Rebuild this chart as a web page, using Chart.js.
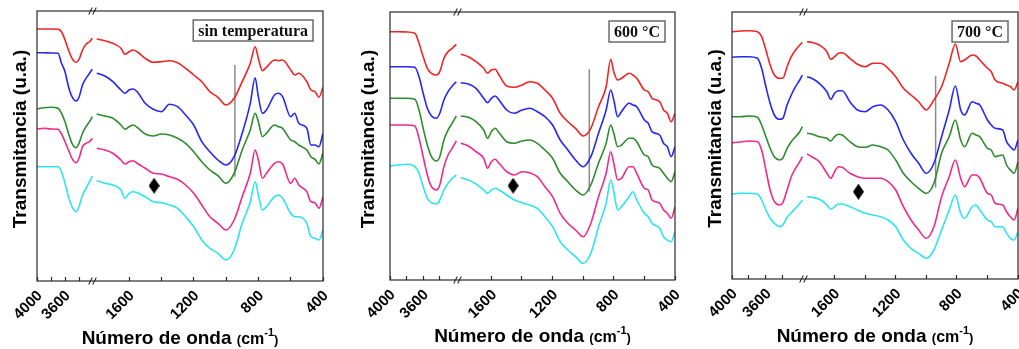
<!DOCTYPE html>
<html>
<head>
<meta charset="utf-8">
<script src="https://cdn.jsdelivr.net/npm/chart.js@4.4.1/dist/chart.umd.min.js"></script>
<style>
  html, body { margin: 0; padding: 0; background: #fff; }
  #wrap { position: relative; width: 1019px; height: 349px; overflow: hidden; }
  .panel { position: absolute; top: 0; }
</style>
</head>
<body>
<div id="wrap">
  <canvas id="c1" class="panel" width="340" height="349" style="left:0"></canvas>
  <canvas id="c2" class="panel" width="340" height="349" style="left:340px"></canvas>
  <canvas id="c3" class="panel" width="341" height="349" style="left:680px"></canvas>
</div>
<script>
// ---- data (wavenumber in cm-1, transmittance in arbitrary units) ----
const panelLabels = ['sin temperatura', '600 °C', '700 °C'];
const tickWn = [4000, 3800, 3600, 3400, 1600, 1400, 1200, 1000, 800, 600, 400];
const labelWn = [4000, 3600, 1600, 1200, 800, 400];

// panel 1 : sin temperatura
const hiWn1 = [4000, 3900, 3800, 3700, 3650, 3600, 3550, 3500, 3440, 3400, 3350, 3300, 3250, 3210];
const loWn1 = [1800, 1750, 1700, 1650, 1625, 1600, 1575, 1550, 1500, 1450, 1400, 1350, 1300, 1250, 1200, 1150, 1100, 1050, 1000, 950, 900, 850, 820, 800, 775, 750, 700, 675, 650, 600, 575, 550, 500, 475, 450, 425, 400];
const p1RedHi   = [252, 252, 252, 251.7, 249.3, 241, 231, 222.7, 218.7, 221.7, 231, 236.7, 239.3, 242.7];
const p1RedLo   = [242, 240.3, 237.7, 232.7, 226.7, 229.3, 231, 229.3, 222.7, 218.7, 219.3, 220.3, 218.3, 212.7, 206, 199.3, 189.3, 183.7, 176, 182.7, 199.3, 217.7, 234.3, 222.7, 210.3, 213.7, 221, 220.3, 221, 211, 206, 207.7, 199.3, 191, 189.3, 183.7, 193.7];
const p1BlueHi  = [228.3, 228.3, 228, 227.7, 217.7, 209.3, 194.3, 184.3, 180, 183.7, 196, 202.7, 207.7, 211.7];
const p1BlueLo  = [207.7, 205, 199.3, 191, 187.7, 191, 192, 189.3, 177.7, 171.7, 169.3, 176.7, 174.3, 166, 156, 139.3, 129.3, 121, 116, 124.3, 147.7, 177.7, 203.3, 184.3, 167.7, 171, 186, 187.7, 184.3, 164.3, 167.7, 157.7, 152.7, 136, 136, 134.3, 147.7];
const p1GreenHi = [172, 173.3, 173.7, 172.7, 167.7, 159.3, 147.7, 137.7, 133.3, 137.7, 147.7, 154.3, 159.3, 164.3];
const p1GreenLo = [167, 165, 162.7, 156, 151.7, 154.3, 156, 153.7, 147, 145, 147, 146, 142.7, 137.7, 129.3, 119.3, 111, 105.3, 97.7, 107.7, 131, 151, 167.7, 159.3, 144.3, 147.7, 156, 154.3, 152.7, 141, 139.3, 136, 131, 124.3, 121.7, 117, 128.3];
const p1PinkHi  = [152, 152.7, 152, 151.7, 147, 139.3, 131, 122.7, 118.3, 122.7, 134.3, 137.7, 139.3, 142.7];
const p1PinkLo  = [132.7, 131, 127.7, 121, 117, 119.3, 120.3, 117.7, 112.7, 107.7, 107, 104.3, 101.7, 96, 87.7, 76, 64.3, 57.7, 51, 61, 84.3, 107.7, 131, 121, 102.7, 107.7, 117.7, 119.3, 117, 97.7, 102.7, 96, 89.3, 79.3, 78.3, 72.7, 84.3];
const p1CyanHi  = [114.3, 114.3, 114.3, 114.3, 109.3, 97.7, 84.3, 74.3, 69.3, 74.3, 86, 92.7, 99.3, 105];
const p1CyanLo  = [100.3, 97.7, 96, 91, 82.7, 87.7, 89.3, 88.3, 84.3, 79.3, 78.3, 76, 72.7, 64.3, 54.3, 41, 32.7, 27.7, 21, 31, 57.7, 79.3, 99.3, 86, 71, 74.3, 84.3, 86, 82.7, 67.7, 64.3, 64.3, 57.7, 44.3, 42.7, 41, 51];

// panel 2 : 600 °C
const hiWn2 = [4000, 3900, 3800, 3700, 3650, 3600, 3550, 3500, 3440, 3400, 3350, 3300, 3250, 3200];
const loWn2 = [1800, 1750, 1700, 1650, 1625, 1600, 1575, 1550, 1500, 1450, 1400, 1350, 1300, 1250, 1200, 1150, 1100, 1050, 1000, 950, 900, 850, 820, 800, 775, 750, 700, 675, 650, 600, 575, 550, 500, 475, 450, 425, 400];
const p2RedHi   = [248.3, 248.3, 248, 246.7, 236.7, 223.3, 211.7, 206.7, 205, 208.3, 221.7, 228.3, 231.7, 235.7];
const p2RedLo   = [225.7, 223.3, 218.3, 211.7, 206.7, 210, 210.7, 205, 194, 192.7, 195, 198.3, 196.7, 190, 181.7, 166.7, 158.3, 151.7, 144, 151.7, 173.3, 193.3, 220.7, 208.3, 200, 201.7, 206.7, 205, 201.7, 190, 188.3, 181.7, 178.3, 170, 166.7, 158.3, 166.7];
const p2BlueHi  = [213.3, 213.3, 213.3, 212.7, 203.3, 186.7, 171.7, 164, 161.7, 166.7, 180, 188.3, 194, 198.3];
const p2BlueLo  = [197.3, 196, 191.7, 181.7, 177.3, 181.7, 184, 180, 170, 166.7, 170, 171.7, 168.3, 163.3, 155, 140, 130, 120, 113.3, 123.3, 146.7, 170, 190, 180, 163.3, 168.3, 176.7, 175, 173.3, 160, 156.7, 148.3, 145, 136.7, 133.3, 123.3, 133.3];
const p2GreenHi = [181.7, 181.7, 181.7, 180.7, 170, 151.7, 135, 123.3, 119, 123.3, 140, 150, 156.7, 164];
const p2GreenLo = [164, 162.7, 158.3, 150, 141.7, 148.3, 151.7, 147.3, 138.3, 136.7, 139, 140, 136.7, 130, 121.7, 106.7, 98.3, 90, 85, 95, 116.7, 136.7, 155, 146.7, 133.3, 135, 141.7, 141.7, 138.3, 125, 123.3, 115, 111.7, 106.7, 101.7, 98.3, 108.3];
const p2PinkHi  = [155, 155, 155, 154, 141.7, 123.3, 105, 93.3, 90, 95, 113.3, 125, 131.7, 139];
const p2PinkLo  = [136.7, 134, 128.3, 121.7, 111.7, 118.3, 120.7, 116.7, 108.3, 105, 108.3, 107.3, 103.3, 93.3, 83.3, 66.7, 56.7, 50, 43.3, 56.7, 83.3, 106.7, 128.3, 116.7, 100, 101.7, 113.3, 113.3, 106.7, 91.7, 90, 80, 76.7, 70, 66.7, 61.7, 73.3];
const p2CyanHi  = [114, 115, 115.7, 113.3, 106.7, 93.3, 81.7, 77.3, 76, 80, 90, 96.7, 101.7, 105];
const p2CyanLo  = [102.3, 100, 96, 90, 86.7, 90, 91.7, 90, 85, 80, 77.3, 75, 71.7, 63.3, 53.3, 38.3, 30, 23.3, 16.7, 26.7, 53.3, 76.7, 100, 88.3, 70, 73.3, 83.3, 88.3, 80, 66.7, 63.3, 56.7, 51.7, 43.3, 40, 38.3, 48.3];

// panel 3 : 700 °C
const hiWn3 = [4000, 3900, 3800, 3700, 3650, 3600, 3550, 3500, 3440, 3400, 3350, 3300, 3250, 3200, 3170];
const loWn3 = [1780, 1750, 1700, 1650, 1625, 1600, 1575, 1550, 1500, 1450, 1400, 1350, 1300, 1250, 1200, 1150, 1100, 1050, 1000, 950, 900, 850, 810, 775, 750, 700, 675, 650, 600, 575, 550, 500, 475, 450, 425, 400];
const p3RedHi   = [247.3, 248, 248.3, 247.3, 242.3, 229, 214, 204, 200.7, 200.7, 212.3, 222.3, 229, 234, 236.7];
const p3RedLo   = [237.3, 236.7, 234, 227.3, 219.7, 222.3, 225.7, 226.3, 220.7, 214.7, 212.3, 215.7, 215.7, 210.7, 202.3, 190.7, 184, 177.3, 169, 179, 192.3, 215.7, 235, 217.3, 219, 224, 223, 219, 210.7, 207.3, 199, 195.7, 194, 192.3, 189, 197.3];
const p3BlueHi  = [221.7, 222.3, 222.3, 220.7, 210.7, 192.3, 175.7, 164, 159.7, 160.7, 174, 184, 192.3, 199, 204];
const p3BlueLo  = [202.3, 200.7, 195.7, 187.3, 179.7, 185.7, 188.3, 188.3, 177.3, 169, 167.3, 172.3, 174, 169, 157.3, 139, 125.7, 115.7, 105.7, 115.7, 142.3, 169, 193, 169, 164, 177.3, 175.7, 174, 159, 154, 150.7, 149, 137.3, 132.3, 129, 139];
const p3GreenHi = [162.3, 162.3, 163, 161.7, 154, 142.3, 130.7, 122.3, 119, 120.7, 130.7, 137.3, 142.3, 147.3, 152.3];
const p3GreenLo = [145.7, 145, 142.3, 140.7, 138, 142.3, 144.7, 144, 137.3, 132.3, 131.7, 134, 132.3, 129, 119, 105.7, 97.3, 90.7, 85.7, 95.7, 125.7, 142.3, 159, 139, 132.3, 145.7, 144, 142.3, 130.7, 129, 122.3, 124, 114, 109, 105.7, 117];
const p3PinkHi  = [136.3, 137, 138, 137.3, 129, 109, 89, 77.3, 74, 76.3, 89, 102.3, 110.7, 117.3, 122.3];
const p3PinkLo  = [125, 122.3, 117.3, 105.7, 100.7, 107.3, 112.3, 111.7, 105.7, 102.3, 100.7, 100.7, 100.7, 97.3, 89, 72.3, 59, 49, 40.7, 52.3, 82.3, 102.3, 119, 100.7, 92.3, 104, 104, 100.7, 85.7, 84, 75.7, 74, 67.3, 62.3, 59, 70.7];
const p3CyanHi  = [85, 85.7, 85.7, 85, 79, 69, 60.7, 55.7, 52.3, 54, 61.7, 66.3, 70.7, 75.7, 79];
const p3CyanLo  = [82.3, 81.7, 79.7, 74, 69.7, 72.3, 75, 75, 72.3, 69, 65.7, 64, 62.3, 59, 52.3, 39, 30.7, 25.7, 20.7, 29, 49, 69, 84, 65.7, 60.7, 72.3, 74, 69, 59, 57.3, 52.3, 52.3, 45.7, 40.7, 39, 47.3];

// reference marks: vertical guide line and diamond
const guideWn     = [945, 960, 939];
const guideTop    = [216, 210.7, 203];
const guideBottom = [104.3, 88.3, 91.3];
const markerWn    = [1445, 1458, 1444];
const markerVal   = [95.3, 94.3, 87.3];

// ---- styles ----
const sansFont = '"Liberation Sans", Arial, sans-serif';
const serifFont = '"Liberation Serif", "Times New Roman", serif';
const lineColors = ['#f02424', '#2626f6', '#2e8b2e', '#ef2a8a', '#2ee4ef'];

const panels = [
  { id: 'c1', hiWn: hiWn1, loWn: loWn1,
    hi: [p1RedHi, p1BlueHi, p1GreenHi, p1PinkHi, p1CyanHi],
    lo: [p1RedLo, p1BlueLo, p1GreenLo, p1PinkLo, p1CyanLo],
    hiMin: 3200, loMax: 1823, hiW: 56, loW: 230, yMax: 270,
    padTop: 11, padRight: 17, yW: 37, xH: 68, yTitleX: 21, xTitleY: 344 },
  { id: 'c2', hiWn: hiWn2, loWn: loWn2,
    hi: [p2RedHi, p2BlueHi, p2GreenHi, p2PinkHi, p2CyanHi],
    lo: [p2RedLo, p2BlueLo, p2GreenLo, p2PinkLo, p2CyanLo],
    hiMin: 3180, loMax: 1818, hiW: 68, loW: 217, yMax: 268,
    padTop: 12, padRight: 5, yW: 50, xH: 69, yTitleX: 29, xTitleY: 342 },
  { id: 'c3', hiWn: hiWn3, loWn: loWn3,
    hi: [p3RedHi, p3BlueHi, p3GreenHi, p3PinkHi, p3CyanHi],
    lo: [p3RedLo, p3BlueLo, p3GreenLo, p3PinkLo, p3CyanLo],
    hiMin: 3150, loMax: 1800, hiW: 72, loW: 214, yMax: 267,
    padTop: 12, padRight: 3, yW: 52, xH: 70, yTitleX: 36, xTitleY: 342 }
];

// broken axis: 4000..hiMin on the left part, loMax..400 on the right part
function brokenX(p, wn) {
  if (wn > 2500) return (4000 - wn) * p.hiW / (4000 - p.hiMin);
  return p.hiW + (p.loMax - wn) * p.loW / (p.loMax - 400);
}

function diamondImage() {
  const c = document.createElement('canvas');
  c.width = 11; c.height = 16;
  const g = c.getContext('2d');
  g.fillStyle = '#000';
  g.beginPath();
  g.moveTo(5.5, 0); g.lineTo(11, 8); g.lineTo(5.5, 16); g.lineTo(0, 8);
  g.closePath(); g.fill();
  return c;
}
const diamond = diamondImage();

// frame, axis break marks, sample label and axis titles
const decor = {
  id: 'decor',
  afterDatasetsDraw(chart, args, o) {
    const { ctx, chartArea: a } = chart;
    const xb = chart.scales.x.getPixelForValue(o.breakAt);
    ctx.save();
    ctx.strokeStyle = '#2a2a2a';
    ctx.lineWidth = 1.2;
    ctx.strokeRect(a.left, a.top, a.right - a.left, a.bottom - a.top);

    // "//" break marks
    ctx.lineWidth = 1.1;
    [a.top, a.bottom].forEach(yy => {
      [-2.5, 1.5].forEach(dx => {
        ctx.beginPath();
        ctx.moveTo(xb + dx - 1.8, yy + 3.5);
        ctx.lineTo(xb + dx + 1.8, yy - 3.5);
        ctx.stroke();
      });
    });

    // label box
    ctx.font = 'bold 16px ' + serifFont;
    const tw = ctx.measureText(o.label).width;
    const bw = tw + 10, bh = 21;
    const bx = a.right - 10 - bw, by = a.top + 9;
    ctx.fillStyle = '#fff';
    ctx.fillRect(bx, by, bw, bh);
    ctx.strokeStyle = '#6a6a6a';
    ctx.lineWidth = 1.5;
    ctx.strokeRect(bx, by, bw, bh);
    ctx.fillStyle = '#111';
    ctx.textBaseline = 'alphabetic';
    ctx.textAlign = 'left';
    ctx.fillText(o.label, bx + 5, by + 16);

    // y title
    ctx.save();
    ctx.translate(o.yTitleX, (a.top + a.bottom) / 2 - 7);
    ctx.rotate(-Math.PI / 2);
    ctx.font = 'bold 19px ' + sansFont;
    ctx.textAlign = 'center';
    ctx.textBaseline = 'middle';
    ctx.fillStyle = '#000';
    ctx.fillText('Transmitancia (u.a.)', 0, 0);
    ctx.restore();

    // x title with small "(cm-1)"
    const parts = [
      { t: 'Número de onda ', size: 19, dy: 0 },
      { t: '(', size: 13, dy: 0 },
      { t: 'cm', size: 16, dy: 0 },
      { t: '-1', size: 11, dy: -8 },
      { t: ')', size: 13, dy: 0 }
    ];
    let total = 0;
    parts.forEach(p => {
      ctx.font = 'bold ' + p.size + 'px ' + sansFont;
      p.w = ctx.measureText(p.t).width;
      total += p.w;
    });
    let x = (a.left + a.right) / 2 - total / 2;
    ctx.fillStyle = '#000';
    parts.forEach(p => {
      ctx.font = 'bold ' + p.size + 'px ' + sansFont;
      ctx.fillText(p.t, x, o.xTitleY + p.dy);
      x += p.w;
    });
    ctx.restore();
  }
};

function lineSet(p, wn, vals, color) {
  return {
    type: 'line',
    data: wn.map((w, i) => ({ x: brokenX(p, w), y: vals[i] })),
    borderColor: color,
    borderWidth: 1.6,
    pointRadius: 0,
    fill: false,
    cubicInterpolationMode: 'monotone'
  };
}

panels.forEach((p, k) => {
  const datasets = [];
  lineColors.forEach((c, i) => {
    datasets.push(lineSet(p, p.hiWn, p.hi[i], c));
    datasets.push(lineSet(p, p.loWn, p.lo[i], c));
  });
  datasets.push({
    type: 'line',
    data: [{ x: brokenX(p, guideWn[k]), y: guideTop[k] }, { x: brokenX(p, guideWn[k]), y: guideBottom[k] }],
    borderColor: '#8c8c8c',
    borderWidth: 1.5,
    pointRadius: 0
  });
  datasets.push({
    type: 'scatter',
    data: [{ x: brokenX(p, markerWn[k]), y: markerVal[k] }],
    pointStyle: diamond,
    pointRadius: 6,
    showLine: false
  });

  new Chart(document.getElementById(p.id), {
    type: 'line',
    data: { datasets },
    plugins: [decor],
    options: {
      responsive: false,
      animation: false,
      layout: { autoPadding: false, padding: { top: p.padTop, right: p.padRight, left: 0, bottom: 0 } },
      plugins: {
        legend: { display: false },
        tooltip: { enabled: false },
        decor: { label: panelLabels[k], yTitleX: p.yTitleX, xTitleY: p.xTitleY, breakAt: p.hiW }
      },
      scales: {
        x: {
          type: 'linear',
          min: 0,
          max: p.hiW + p.loW,
          afterFit(s) {
            s.height = p.xH;
            s.paddingLeft = 0;
            s.paddingRight = 0;
          },
          afterBuildTicks(s) {
            s.ticks = tickWn.map(w => ({ value: brokenX(p, w), wn: w }));
          },
          border: { display: false },
          grid: { drawOnChartArea: false, tickLength: -4, tickColor: '#2a2a2a', tickWidth: 1.2 },
          ticks: {
            autoSkip: false,
            minRotation: 45,
            maxRotation: 45,
            padding: 10,
            labelOffset: 3,
            color: '#000',
            font: { family: sansFont, size: 15, weight: 'bold' },
            callback(v, i, ticks) {
              const w = ticks[i].wn;
              return labelWn.includes(w) ? String(w) : '';
            }
          }
        },
        y: {
          min: 0,
          max: p.yMax,
          ticks: { display: false },
          grid: { display: false },
          border: { display: false },
          afterFit(s) {
            s.width = p.yW;
            s.paddingTop = 0;
            s.paddingBottom = 0;
          }
        }
      }
    }
  });
});
</script>
</body>
</html>
